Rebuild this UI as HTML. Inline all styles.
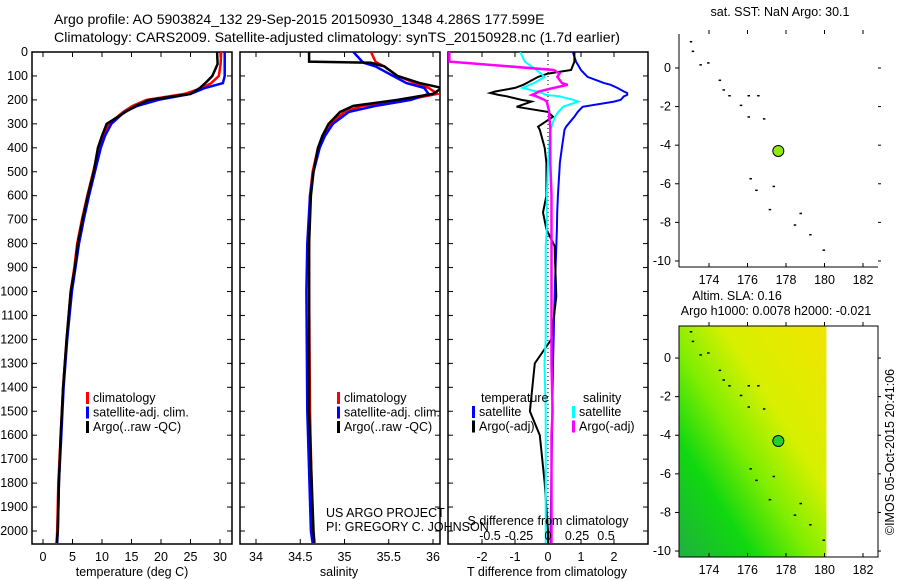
<!DOCTYPE html>
<html><head><meta charset="utf-8"><style>
body{margin:0;background:#fff;}
svg{display:block;font-family:"Liberation Sans",sans-serif;font-size:12.5px;}
</style></head><body>
<svg id="c" width="900" height="580" xmlns="http://www.w3.org/2000/svg"></svg>
<script>
// ---- data ----
const depthT = [0,50,100,130,150,175,200,225,250,300,350,400,500,600,700,800,900,1000,1200,1400,1600,1800,2000,2050];
const tempArgo = [29.5,29.6,28.7,27.5,26.6,25,18,15.7,14,10.8,10,9.3,8.6,7.6,6.7,5.9,5.4,4.7,4,3.4,3,2.7,2.5,2.3];
const tempClim = [30.2,30.1,29.8,28.5,27,24,17.5,15.2,13.6,11.2,10.2,9.5,8.5,7.5,6.6,5.8,5.3,4.7,4,3.4,3,2.6,2.4,2.3];
const tempSat = [30.8,30.8,30.8,30.5,27.5,25,19.5,16,13.8,11.6,10.5,9.8,8.8,7.8,6.9,6.1,5.5,4.9,4.1,3.5,3.1,2.7,2.5,2.4];
const depthS = [0,40,45,60,100,130,150,175,200,225,250,300,350,400,500,600,800,1000,1500,2000,2050];
const salArgo = [34.6,34.6,35.3,35.45,35.6,35.85,36.1,36.0,35.6,35.1,34.95,34.82,34.75,34.7,34.65,34.62,34.6,34.6,34.6,34.65,34.66];
const salClim = [35.3,35.35,35.37,35.45,35.6,35.8,35.95,36.05,35.7,35.2,35.0,34.84,34.76,34.7,34.64,34.61,34.6,34.6,34.61,34.64,34.65];
const salSat = [35.1,35.2,35.22,35.35,35.55,35.7,35.9,35.95,35.75,35.35,35.05,34.87,34.78,34.72,34.65,34.61,34.58,34.57,34.58,34.62,34.64];
const depthD = [0,40,75,90,104,130,137,150,165,171,179,185,200,207,229,250,270,312,325,400,462,600,670,740,810,1020,1200,1300,1500,1600,1800,2000,2050];
const dTsat = [0.75,0.85,1.0,1.1,1.2,1.7,1.9,2.1,2.3,2.4,2.4,2.3,2.2,2.0,1.05,0.9,0.8,0.55,0.5,0.42,0.36,0.3,0.28,0.27,0.25,0.2,0.17,0.15,0.13,0.12,0.1,0.08,0.08];
const dTargo = [0.8,0.8,0.7,0,-0.3,-0.65,-0.75,-1.0,-1.6,-1.75,-1.5,-1.25,-0.8,-0.5,-0.95,0,0.15,-0.3,-0.25,-0.1,-0.05,-0.05,-0.15,-0.05,0.2,0.25,0.1,-0.4,-0.55,-0.25,-0.1,0,0];
const dSsat = [-0.24,-0.2,-0.1,-0.06,-0.03,-0.12,-0.16,-0.22,-0.1,-0.05,-0.02,0.1,0.22,0.26,0.13,0.09,0.06,0.03,0.02,0.01,0,-0.01,-0.01,-0.01,-0.02,-0.02,-0.02,-0.03,-0.02,-0.02,-0.02,-0.02,-0.02];
const dSargo = [-0.85,-0.85,0.05,0.1,0.08,0.12,0.17,0.05,-0.08,-0.1,-0.14,-0.1,-0.03,-0.01,0.0,0.01,0.01,0.02,0.02,0.02,0.02,0.03,0.03,0.03,0.03,0.03,0.03,0.03,0.04,0.03,0.03,0.03,0.03];
const tempTicks = [0,5,10,15,20,25,30];
const salTicks = [34,34.5,35,35.5,36];
const dTTicks = [-2,-1,0,1,2];
const dSTicks = [-0.5,-0.25,0,0.25,0.5];
const depthTicks = [0,100,200,300,400,500,600,700,800,900,1000,1100,1200,1300,1400,1500,1600,1700,1800,1900,2000];
const lonTicks = [174,176,178,180,182];
const latTicks = [0,-2,-4,-6,-8,-10];
const islandLon = [173.0,173.1,173.5,173.9,174.5,174.7,175.0,175.6,176.0,176.5,176.0,176.8,176.1,176.4,177.3,177.1,178.7,178.4,179.2,179.9];
const islandLat = [1.4,0.9,0.2,0.3,-0.6,-1.1,-1.4,-1.9,-1.4,-1.4,-2.5,-2.6,-5.7,-6.3,-6.1,-7.3,-7.5,-8.1,-8.6,-9.4];
const argoLon = 177.6, argoLat = -4.3;

// ---- helpers ----
const svg = document.getElementById('c');
const NS = 'http://www.w3.org/2000/svg';
function mk(tag, attrs, parent){const e=document.createElementNS(NS,tag);for(const k in attrs)e.setAttribute(k,attrs[k]);(parent||svg).appendChild(e);return e;}
function txt(x,y,s,anchor,name,extra){const t=mk('text',Object.assign({x:x,y:y,'text-anchor':anchor||'start',fill:'#000'},extra||{}));t.textContent=s;


return t;}
const top0=52, bot=544;
const yD = d => top0 + d*0.2395;
function lin(d0,p0,d1,p1){return v=>p0+(v-d0)*(p1-p0)/(d1-d0);}

function panel(x0,x1,name){
  const r=mk('rect',{x:x0,y:top0,width:x1-x0,height:bot-top0,fill:'none',stroke:'#000','stroke-width':1.5});
  
  
}
function line(xs,ds,xf,color,w,name,clip){
  const p=xs.map((v,i)=>xf(v).toFixed(1)+','+yD(ds[i]).toFixed(1)).join(' ');
  const l=mk('polyline',{points:p,fill:'none',stroke:color,'stroke-width':w,'clip-path':clip||'url(#clp3)'});
  
  
}
const defs=mk('defs',{});
[[32,232,'clp1'],[240,440,'clp2'],[448,648,'clp3']].forEach(c=>{const cp=mk('clipPath',{id:c[2]},defs);mk('rect',{x:c[0],y:top0,width:c[1]-c[0],height:bot-top0},cp);});

// titles
txt(54,24,'Argo profile: AO 5903824_132 29-Sep-2015 20150930_1348 4.286S 177.599E','start','title-line-1',{'font-size':'14'});
txt(54,42,'Climatology: CARS2009. Satellite-adjusted climatology: synTS_20150928.nc (1.7d earlier)','start','title-line-2',{'font-size':'14',textLength:'566',lengthAdjust:'spacingAndGlyphs'});

// panel 1 temperature
const xT = lin(0,43,30,220);
panel(32,232,'temperature-panel');
depthTicks.forEach(d=>{mk('line',{x1:32,x2:37,y1:yD(d),y2:yD(d),stroke:'#000'});mk('line',{x1:227,x2:232,y1:yD(d),y2:yD(d),stroke:'#000'});
 txt(28,yD(d)+4,String(d),'end','depth-tick-label');});
tempTicks.forEach(v=>{mk('line',{x1:xT(v),x2:xT(v),y1:bot,y2:bot-5,stroke:'#000'});mk('line',{x1:xT(v),x2:xT(v),y1:top0,y2:top0+5,stroke:'#000'});txt(xT(v),561,String(v),'middle','temperature-tick-label');});
line(tempClim,depthT,xT,'#f00',2.5,'temp-climatology-line','url(#clp1)');
line(tempSat,depthT,xT,'#00f',2.5,'temp-satellite-line','url(#clp1)');
line(tempArgo,depthT,xT,'#000',2.5,'temp-argo-line','url(#clp1)');
txt(132,576,'temperature (deg C)','middle','temperature-axis-title');

// panel 2 salinity
const xS = lin(34,256,36,433);
panel(240,440,'salinity-panel');
depthTicks.forEach(d=>{mk('line',{x1:240,x2:245,y1:yD(d),y2:yD(d),stroke:'#000'});mk('line',{x1:435,x2:440,y1:yD(d),y2:yD(d),stroke:'#000'});});
salTicks.forEach(v=>{mk('line',{x1:xS(v),x2:xS(v),y1:bot,y2:bot-5,stroke:'#000'});mk('line',{x1:xS(v),x2:xS(v),y1:top0,y2:top0+5,stroke:'#000'});txt(xS(v),561,String(v),'middle','salinity-tick-label');});
line(salClim,depthS,xS,'#f00',2.5,'sal-climatology-line','url(#clp2)');
line(salSat,depthS,xS,'#00f',2.5,'sal-satellite-line','url(#clp2)');
line(salArgo,depthS,xS,'#000',2.5,'sal-argo-line','url(#clp2)');
txt(339,576,'salinity','middle','salinity-axis-title');

// legends
function legend(x,y,items,name){items.forEach((it,i)=>{const r=mk('rect',{x:x,y:y+i*14.5-10,width:3,height:12,fill:it[0]});txt(x+7,y+i*14.5,it[1],'start',name+'-entry');});}
legend(86,402,[['#f00','climatology'],['#00f','satellite-adj. clim.'],['#000','Argo(..raw -QC)']],'temp-legend');
legend(337,402,[['#f00','climatology'],['#00f','satellite-adj. clim.'],['#000','Argo(..raw -QC)']],'sal-legend');
txt(326,517,'US ARGO PROJECT','start','project-label');
txt(326,531,'PI: GREGORY C. JOHNSON','start','pi-label');

// panel 3 differences
const xdT = lin(0,548,1,581);
const xdS = lin(0,548,1,664);
panel(448,648,'difference-panel');
depthTicks.forEach(d=>{mk('line',{x1:448,x2:453,y1:yD(d),y2:yD(d),stroke:'#000'});mk('line',{x1:643,x2:648,y1:yD(d),y2:yD(d),stroke:'#000'});});
mk('line',{x1:548,x2:548,y1:top0,y2:bot,stroke:'#000','stroke-dasharray':'1,3'});
dTTicks.forEach(v=>{mk('line',{x1:xdT(v),x2:xdT(v),y1:bot,y2:bot-5,stroke:'#000'});mk('line',{x1:xdT(v),x2:xdT(v),y1:top0,y2:top0+5,stroke:'#000'});txt(xdT(v),561,String(v),'middle','t-diff-tick-label');});
line(dTsat,depthD,xdT,'#00f',2,'t-diff-satellite-line');
line(dTargo,depthD,xdT,'#000',2,'t-diff-argo-line');
line(dSsat,depthD,xdS,'#0ff',2,'s-diff-satellite-line');
line(dSargo,depthD,xdS,'#f0f',2.5,'s-diff-argo-line');
dSTicks.forEach(v=>{txt(xdS(v),540,String(v),'middle','s-diff-tick-label');});
txt(548,525,'S difference from climatology','middle','s-diff-axis-title');
txt(547,576,'T difference from climatology','middle','t-diff-axis-title');
txt(481,402,'temperature','start','legend-temperature-header');
txt(583,402,'salinity','start','legend-salinity-header');
legend(472,416,[['#00f','satellite'],['#000','Argo(-adj)']],'t-diff-legend');
legend(572,416,[['#0ff','satellite'],['#f0f','Argo(-adj)']],'s-diff-legend');

// maps
function map(y0,y1,latTop,name,colored){
  const x0=679,x1=878;
  const xL=lin(174,709,182,863);
  const yL=lin(latTop,y0,latTop-1,y0+19.3);
  if(colored){
    const g=mk('linearGradient',{id:'sla',x1:'1',y1:'0',x2:'0',y2:'1'},defs);
    [['0','#f0e400'],['0.35','#d8f000'],['0.55','#80ee00'],['0.75','#10d810'],['1','#20b040']].forEach(s=>mk('stop',{offset:s[0],'stop-color':s[1]},g));
    const r=mk('rect',{x:x0,y:y0,width:xL(180.1)-x0,height:y1-y0,fill:'url(#sla)'});
    
    
    const r2=mk('rect',{x:x0,y:y0,width:199,height:y1-y0,fill:'none',stroke:'#000'});
    
    
  } else {
    mk('line',{x1:x0,x2:x0,y1:y0,y2:y1,stroke:'#000'});mk('line',{x1:x0,x2:x1,y1:y1,y2:y1,stroke:'#000'});
  }
  lonTicks.forEach(v=>{mk('line',{x1:xL(v),x2:xL(v),y1:y1,y2:y1-4,stroke:'#000'});mk('line',{x1:xL(v),x2:xL(v),y1:y0,y2:y0-4,stroke:'#000'});txt(xL(v),y1+17,String(v),'middle',name+'-lon-label');});
  latTicks.forEach(v=>{mk('line',{x1:x0,x2:x0-4,y1:yL(v),y2:yL(v),stroke:'#000'});mk('line',{x1:x1,x2:x1+3,y1:yL(v),y2:yL(v),stroke:'#000'});txt(x0-8,yL(v)+4,String(v),'end',name+'-lat-label');});
  islandLon.forEach((v,i)=>{const r=mk('rect',{x:xL(v),y:yL(islandLat[i]),width:2.5,height:1.5,fill:'#000'});
    
    });
  const c=mk('circle',{cx:xL(argoLon),cy:yL(argoLat),r:5.5,fill:colored?'#20d030':'#90e810',stroke:'#000'});
  
  
}
txt(780,16,'sat. SST: NaN Argo: 30.1','middle','sst-map-title');
map(34,267,1.76,'sst-map',false);
txt(737,300,'Altim. SLA: 0.16','middle','sla-map-title');
txt(776,315,'Argo h1000: 0.0078 h2000: -0.021','middle','sla-map-subtitle');
map(326,557,1.66,'sla-map',true);
const cr=txt(0,0,'©IMOS 05-Oct-2015 20:41:06','middle','timestamp-label',{transform:'translate(894,452) rotate(-90)'});
</script>
</body></html>
